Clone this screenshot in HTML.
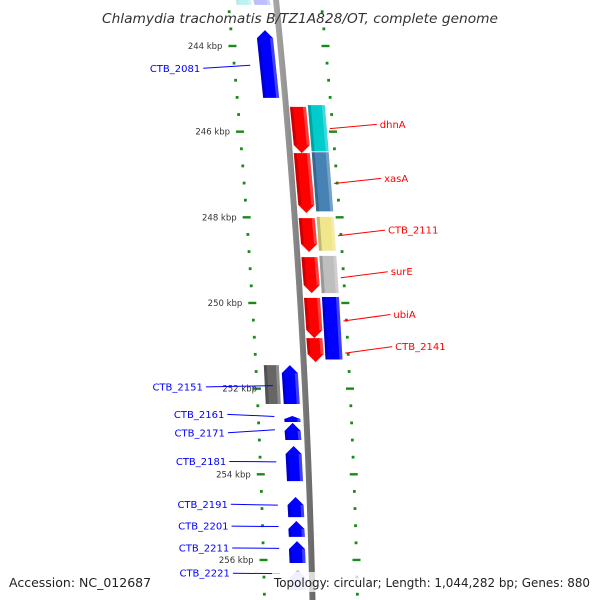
<!DOCTYPE html>
<html><head><meta charset="utf-8"><style>
html,body{margin:0;padding:0;background:#fff;}
svg{display:block;font-family:"DejaVu Sans","Liberation Sans",sans-serif;}
</style></head><body>
<svg id="map" width="600" height="600" viewBox="0 0 600 600" xmlns="http://www.w3.org/2000/svg">
<defs>
<linearGradient id="bb" x1="0" x2="1"><stop offset="0" stop-color="#aaa"/><stop offset="0.5" stop-color="#888"/><stop offset="1" stop-color="#666"/></linearGradient>
</defs>
<g id="ticks"></g>
<g id="backbone"></g>
<g id="genes"></g>
<g id="labels"></g>
<text x="300" y="23" text-anchor="middle" font-size="13.5" font-style="italic" fill="#333" textLength="396" lengthAdjust="spacingAndGlyphs">Chlamydia trachomatis B/TZ1A828/OT, complete genome</text>
<text x="9" y="587" font-size="12.5" fill="#222">Accession: NC_012687</text>
<rect x="272" y="572" width="322" height="20" fill="#fff" opacity="0.75"/>
<text x="590" y="587" text-anchor="end" font-size="12.5" fill="#222" textLength="316" lengthAdjust="spacingAndGlyphs">Topology: circular; Length: 1,044,282 bp; Genes: 880</text>
</svg>
<script>
// data
const geneNames = ["top-a","top-b","CTB_2081","dhnA","dhnA-b","xasA","xasA-b","CTB_2111","CTB_2111-b","surE","surE-b","ubiA","ubiA-b","CTB_2141","CTB_2151","CTB_2151-b","CTB_2161","CTB_2171","CTB_2181","CTB_2191","CTB_2201","CTB_2211","CTB_2221"];
const geneStart = [242.81,242.81,243.63,245.42,245.38,246.50,246.48,248.02,247.99,248.93,248.90,249.88,249.86,250.82,251.45,251.45,252.64,252.80,253.34,254.53,255.09,255.56,256.23];
const geneEnd   = [243.04,243.04,245.21,246.50,246.46,247.90,247.86,248.81,248.78,249.77,249.77,250.82,251.32,251.38,252.36,252.36,252.78,253.20,254.16,255.00,255.46,256.07,256.70];
const geneTrack = [-2,-1,-1,1,2,1,2,1,2,1,2,1,2,1,-2,-1,-1,-1,-1,-1,-1,-1,-1];
const geneColor = ["#00cccc","#0000ff","#0000ff","#ff0000","#00cccc","#ff0000","#4682b4","#ff0000","#f0e68c","#ff0000","#bebebe","#ff0000","#0000ff","#ff0000","#666666","#0000ff","#0000ff","#0000ff","#0000ff","#0000ff","#0000ff","#0000ff","#0000ff"];
const geneArrow = [0,1,1,1,0,1,0,1,0,1,0,1,0,1,0,1,1,1,1,1,1,1,1];
const geneFaded = [1,1,0,0,0,0,0,0,0,0,0,0,0,0,0,0,0,0,0,0,0,0,1];
const labelText = ["CTB_2081","dhnA","xasA","CTB_2111","surE","ubiA","CTB_2141","CTB_2151","CTB_2161","CTB_2171","CTB_2181","CTB_2191","CTB_2201","CTB_2211","CTB_2221"];
const labelKbp  = [244.45,245.93,247.21,248.43,249.41,250.42,251.17,251.93,252.65,252.96,253.71,254.72,255.22,255.73,256.32];
const labelSide = [-1,1,1,1,1,1,1,-1,-1,-1,-1,-1,-1,-1,-1];
const labelTextKbp = [244.52,245.83,247.09,248.30,249.27,250.27,251.02,251.96,252.60,253.03,253.70,254.70,255.21,255.72,256.31];
const tickLabels = ["244 kbp","246 kbp","248 kbp","250 kbp","252 kbp","254 kbp","256 kbp"];
const tickKbp = [244,246,248,250,252,254,256];

const NS="http://www.w3.org/2000/svg";
function yOf(k){return 46+(k-244)*42.83;}
function bx(y){return 276+0.1*y-6.53e-5*y*y;}
const trackOff={"-2":[-40,-25],"-1":[-22,-6],"1":[4,20],"2":[22,39]};
function mk(tag,attrs,parent){const e=document.createElementNS(NS,tag);for(const k in attrs)e.setAttribute(k,attrs[k]);parent.appendChild(e);return e;}

// backbone
const bbG=document.getElementById('backbone');
let pts=[],pts2=[];
for(let y=-5;y<=605;y+=10){pts.push((bx(y)-3)+","+y);pts2.unshift((bx(y)+3)+","+y);}
const bb=mk('polygon',{points:pts.concat(pts2).join(' '),fill:'url(#bb)'},bbG);



// ticks
const tG=document.getElementById('ticks');
for(let k=242.4;k<=257.2;k+=0.4){
  const y=yOf(k);const major=Math.abs(((k-244)/2)-Math.round((k-244)/2))<0.01;
  for(const side of [-1,1]){
    const x=bx(y)+(side<0?-48:45);
    const r=major?mk('rect',{x:x-4,y:y-1.2,width:8,height:2.4,fill:'#1a8a1a'},tG):mk('rect',{x:x-1.4,y:y-1.4,width:2.8,height:2.8,fill:'#1a8a1a'},tG);
    
    
  }
}
tickKbp.forEach((k,i)=>{
  const y=yOf(k);
  const t=mk('text',{x:bx(y)-58+(k==252?10:0),y:y+3,'font-size':'8.5','text-anchor':'end',fill:'#333'},tG);
  t.textContent=tickLabels[i];
  
  
});

// genes
const gG=document.getElementById('genes');
geneStart.forEach((s,i)=>{
  const y1=yOf(s),y2=yOf(geneEnd[i]);const o=trackOff[geneTrack[i]];
  const a1=bx(y1)+o[0],b1=bx(y1)+o[1],a2=bx(y2)+o[0],b2=bx(y2)+o[1];
  let p;const h=Math.min(8,(y2-y1)*0.5);
  if(!geneArrow[i]) p=[[a1,y1],[b1,y1],[b2,y2],[a2,y2]];
  else if(geneTrack[i]<0){const m=(a1+b1)/2;p=[[m,y1],[b1,y1+h],[b2,y2],[a2,y2],[a1,y1+h]];}
  else{const m=(a2+b2)/2;p=[[a1,y1],[b1,y1],[b2,y2-h],[m,y2],[a2,y2-h]];}
  const g=mk('g',{opacity:geneFaded[i]?0.25:1},gG);
  
  
  mk('polygon',{points:p.map(q=>q.join(',')).join(' '),fill:geneColor[i]},g);
  mk('polygon',{points:[[a1,y1+(geneArrow[i]&&geneTrack[i]<0?h:0)],[a1+3,y1+(geneArrow[i]&&geneTrack[i]<0?h:0)],[a2+3,y2-(geneArrow[i]&&geneTrack[i]>0?h:0)],[a2,y2-(geneArrow[i]&&geneTrack[i]>0?h:0)]].map(q=>q.join(',')).join(' '),fill:'#000',opacity:0.2},g);
  mk('polygon',{points:[[b1-3,y1+(geneArrow[i]&&geneTrack[i]<0?h:0)],[b1,y1+(geneArrow[i]&&geneTrack[i]<0?h:0)],[b2,y2-(geneArrow[i]&&geneTrack[i]>0?h:0)],[b2-3,y2-(geneArrow[i]&&geneTrack[i]>0?h:0)]].map(q=>q.join(',')).join(' '),fill:'#fff',opacity:0.25},g);
});

// labels
const lG=document.getElementById('labels');
labelText.forEach((t,i)=>{
  const y=yOf(labelKbp[i]),ty=yOf(labelTextKbp[i]);
  const right=labelSide[i]>0;const col=right?'#ff0000':'#0000ff';
  const x0=right?bx(y)+42:bx(y)-32;
  const x1=right?x0+47:x0-47-(i==7?20:0);
  const ln=mk('line',{x1:x0,y1:y,x2:x1,y2:ty,stroke:col,'stroke-width':1},lG);
  
  
  const tx=mk('text',{x:right?x1+3:x1-3,y:ty+3.5,'font-size':'10','text-anchor':right?'start':'end',fill:col},lG);
  tx.textContent=t;
  
  
});
</script>
</body></html>
